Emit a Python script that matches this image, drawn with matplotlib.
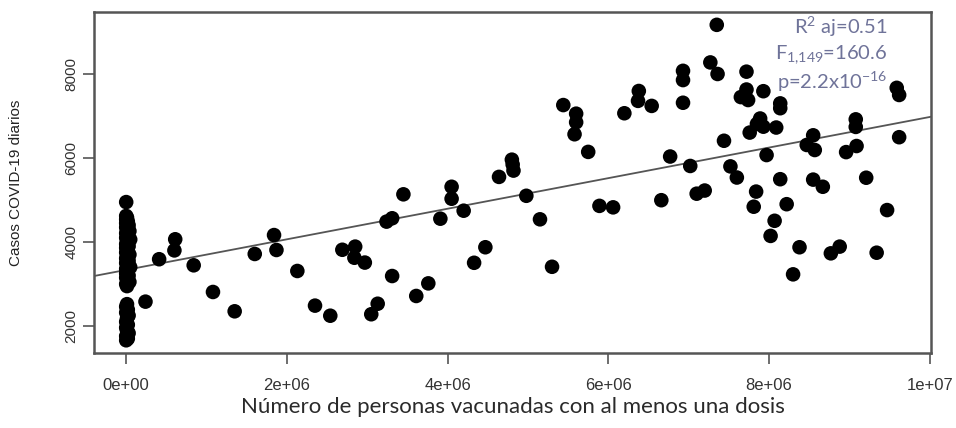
"""
Casos diarios de COVID-19 frente a personas vacunadas con al menos una dosis,
con la recta de regresion lineal.
"""

import numpy as np
import matplotlib
matplotlib.use("Agg")
import matplotlib.pyplot as plt

# primeros dias: casi sin vacunados
vac_inicio = [0, 0, 10000, 0, 20000, 0, 30000, 0, 10000, 40000,
              0, 20000, 0, 50000, 10000, 0, 30000, 0, 20000, 0,
              40000, 10000, 0, 30000, 0, 20000, 50000, 0, 10000, 0,
              30000, 0, 20000, 40000, 0, 10000, 0, 20000, 0, 30000,
              10000, 0, 20000, 0, 10000, 30000, 0, 20000, 0, 10000]
casos_inicio = [4950, 4620, 4580, 4540, 4490, 4450, 4400, 4350, 4300, 4260,
                4210, 4150, 4100, 4060, 4000, 3950, 3900, 3860, 3800, 3750,
                3700, 3650, 3610, 3550, 3500, 3450, 3400, 3360, 3300, 3250,
                3200, 3150, 3100, 3050, 3000, 2520, 2460, 2390, 2320, 2250,
                2180, 2100, 2030, 1960, 1900, 1830, 1760, 1700, 1660, 2950]

vac_resto = [
    0.24e6, 0.41e6, 0.61e6, 0.60e6, 0.84e6, 1.08e6, 1.35e6, 1.60e6, 1.84e6, 1.87e6,
    2.13e6, 2.35e6, 2.54e6, 2.69e6, 2.85e6, 2.84e6, 2.97e6, 3.05e6, 3.13e6, 3.24e6,
    3.31e6, 3.31e6, 3.45e6, 3.61e6, 3.76e6, 3.91e6, 4.05e6, 4.05e6, 4.20e6, 4.33e6,
    4.47e6, 4.64e6, 4.80e6, 4.81e6, 4.82e6, 4.98e6, 5.15e6, 5.30e6, 5.44e6, 5.60e6,
    5.60e6, 5.58e6, 5.75e6, 5.89e6, 6.06e6, 6.20e6, 6.38e6, 6.37e6, 6.54e6, 6.66e6,
    6.77e6, 7.35e6, 7.27e6, 7.36e6, 6.93e6, 6.93e6, 6.93e6, 7.02e6, 7.10e6, 7.20e6,
    7.72e6, 7.72e6, 7.65e6, 7.74e6, 7.93e6, 8.14e6, 8.14e6, 7.89e6, 7.93e6, 8.09e6,
    7.76e6, 7.44e6, 7.97e6, 7.52e6, 7.60e6, 7.84e6, 7.81e6, 8.14e6, 8.22e6, 8.07e6,
    8.02e6, 8.38e6, 8.30e6, 8.55e6, 8.47e6, 8.57e6, 8.55e6, 8.67e6, 8.77e6, 8.88e6,
    9.08e6, 9.08e6, 9.09e6, 8.96e6, 9.21e6, 9.47e6, 9.34e6, 9.59e6, 9.62e6, 9.62e6,
    7.85e6,
]
casos_resto = [
    2580, 3590, 4065, 3800, 3445, 2810, 2350, 3715, 4165, 3810,
    3310, 2485, 2245, 3815, 3890, 3625, 3510, 2280, 2530, 4485,
    4565, 3190, 5135, 2715, 3015, 4555, 5315, 5030, 4745, 3505,
    3875, 5550, 5960, 5845, 5700, 5100, 4540, 3410, 7260, 7055,
    6850, 6565, 6145, 4860, 4825, 7065, 7595, 7360, 7240, 4995,
    6035, 9170, 8275, 8000, 8075, 7855, 7315, 5810, 5150, 5225,
    8055, 7630, 7450, 7380, 7590, 7300, 7185, 6940, 6745, 6725,
    6605, 6410, 6070, 5800, 5535, 5200, 4840, 5495, 4900, 4505,
    4145, 3875, 3230, 6540, 6310, 6190, 5485, 5315, 3730, 3890,
    6920, 6740, 6285, 6140, 5530, 4760, 3745, 7670, 7500, 6495,
    6810,
]

# recta lm(casos ~ vacunados)
INTERCEPTO = 3336
PENDIENTE = 3.64e-4

anotacion = [r"R$^2$ aj=0.51", r"F$_{1{,}149}$=160.6", r"p=2.2x10$^{-16}$"]

x_ticks = [0, 2e6, 4e6, 6e6, 8e6, 1e7]
x_ticklabels = ["0e+00", "2e+06", "4e+06", "6e+06", "8e+06", "1e+07"]
y_ticks = [2000, 4000, 6000, 8000]

plt.rcParams["mathtext.fontset"] = "custom"
plt.rcParams["mathtext.rm"] = "Lato"
plt.rcParams["mathtext.it"] = "Lato"


def main():
    vac = np.array(vac_inicio + vac_resto)
    casos = np.array(casos_inicio + casos_resto)

    fig = plt.figure(figsize=(9.56, 4.28), dpi=100)
    ax = fig.add_axes([0.0983, 0.1752, 0.8756, 0.7968])

    ax.scatter(vac, casos, s=110, color="black", edgecolors="none", zorder=3)
    ax.axline((0, INTERCEPTO), slope=PENDIENTE, color="#555555", lw=1.3, zorder=2)

    ax.set_xlim(-0.401e6, 1.0017e7)
    ax.set_ylim(1357, 9476)

    ax.set_xticks(x_ticks)
    ax.set_xticklabels(x_ticklabels, family="Liberation Sans",
                       fontsize=12, color="#333333")
    ax.set_yticks(y_ticks)
    ax.set_yticklabels([str(v) for v in y_ticks], rotation=90, va="center",
                       family="Liberation Sans", fontsize=11, color="#333333")
    ax.tick_params(axis="both", length=8, width=1.2, color="#555555")
    ax.tick_params(axis="x", pad=10)
    ax.tick_params(axis="y", pad=3)

    for s in ax.spines.values():
        s.set_color("#555555")
        s.set_linewidth(1.8)

    ax.set_xlabel("Número de personas vacunadas con al menos una dosis",
                  family="Lato", fontsize=16, color="#2a2a2a", labelpad=3)
    ax.set_ylabel("Casos COVID-19 diarios", family="Liberation Sans",
                  fontsize=11, color="#222222", labelpad=30)

    for i, txt in enumerate(anotacion):
        ax.text(0.948, 0.955 - i * 0.08, txt, transform=ax.transAxes,
                ha="right", va="center", family="Lato", fontsize=14.5,
                color="#6f7399", zorder=4)

    fig.savefig("out.png", dpi=100)


if __name__ == "__main__":
    main()
